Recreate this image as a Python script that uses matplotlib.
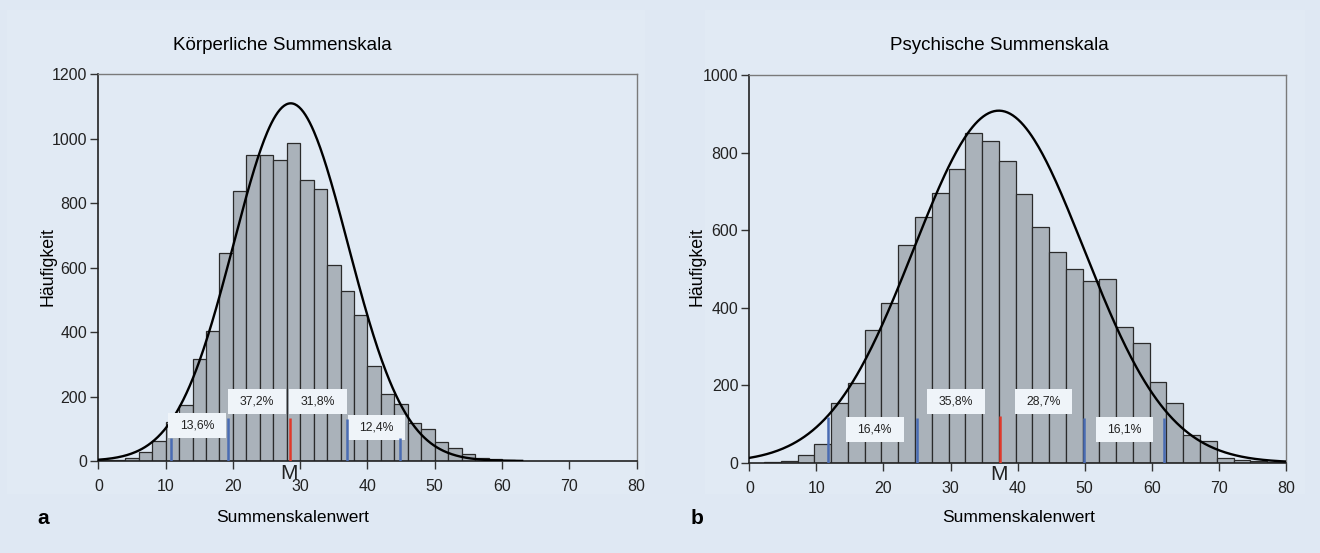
"""
Häufigkeitsverteilungen der Summenskalen (körperlich / psychisch)
mit Normalverteilungskurve und Prozentanteilen je Abschnitt.
"""
import numpy as np
import matplotlib
matplotlib.use("Agg")
import matplotlib.pyplot as plt
from matplotlib.patches import Rectangle

plt.rcParams["font.family"] = ["Liberation Sans", "DejaVu Sans"]

BG = "#dfe8f3"
AREA = "#e1eaf4"
BAR = "#aab2ba"
BLUE = "#4a6cb3"
RED = "#e0392b"
BOX = "#eff4f9"
TXT = "#222222"
TICKFONT = ["Liberation Sans Narrow", "Liberation Sans", "DejaVu Sans"]

# ── Körperliche Summenskala (Klassenbreite 2) ──
koerp_bin_lo = list(range(0, 62, 2))
koerp_counts = [2, 4, 8, 28, 62, 122, 175, 316, 403, 647, 838, 949, 949, 934,
                986, 872, 843, 607, 527, 454, 295, 207, 178, 119, 99, 58, 39,
                21, 8, 5, 3]
koerp_width = 2
koerp_mean, koerp_sd, koerp_peak, koerp_curve_end = 28.6, 8.5, 1110, 63
koerp_mark_x = [10.8, 19.3, 28.5, 37.0, 44.9]
koerp_mark_h = [70, 132, 132, 129, 70]
koerp_pct = ["13,6%", "37,2%", "31,8%", "12,4%"]
koerp_pct_x = [14.7, 23.55, 32.65, 41.35]
koerp_pct_y = [110, 184, 184, 104]

# ── Psychische Summenskala (Klassenbreite 2,5) ──
psych_bin_lo = [2.2 + 2.5 * k for k in range(31)]
psych_counts = [2, 4, 21, 48, 155, 205, 342, 413, 561, 634, 695, 757, 851,
                831, 778, 692, 607, 543, 499, 469, 475, 349, 308, 208, 153,
                72, 55, 13, 7, 4, 2]
psych_width = 2.5
psych_mean, psych_sd, psych_peak, psych_curve_end = 37.2, 12.7, 908, 80
psych_mark_x = [11.8, 25.0, 37.4, 49.9, 61.9]
psych_mark_h = [117, 114, 121, 114, 114]
psych_pct = ["16,4%", "35,8%", "28,7%", "16,1%"]
psych_pct_x = [18.7, 30.85, 43.85, 55.95]
psych_pct_y = [86, 158, 158, 86]

mark_colors = [BLUE, BLUE, RED, BLUE, BLUE]


def panel(ax, lo, counts, width, mean, sd, peak, curve_end,
          mark_x, mark_h, pct, pct_x, pct_y, ymax, box_h):
    ax.set_facecolor(AREA)
    ax.bar(lo, counts, width=width, align="edge", color=BAR,
           edgecolor="#2b2b2b", linewidth=0.9, zorder=2)

    # Normalverteilung mit den Kennwerten der Skala
    xs = np.linspace(0, curve_end, 400)
    ax.plot(xs, peak * np.exp(-0.5 * ((xs - mean) / sd) ** 2),
            color="black", linewidth=1.7, zorder=3)

    for x, h, c in zip(mark_x, mark_h, mark_colors):
        ax.plot([x, x], [0, h], color=c, linewidth=1.8, zorder=5,
                solid_capstyle="butt")

    box_w = 8.6
    for t, x, y in zip(pct, pct_x, pct_y):
        ax.add_patch(Rectangle((x - box_w / 2, y - box_h / 2), box_w, box_h,
                               facecolor=BOX, edgecolor="none", zorder=4))
        ax.text(x, y, t, ha="center", va="center", fontsize=8.8,
                color=TXT, zorder=6)

    # "M" unter dem Mittelwert
    ax.annotate("M", xy=(mark_x[2], 0), xycoords="data",
                xytext=(-1, -2), textcoords="offset points",
                ha="center", va="top", fontsize=15, color=TXT,
                annotation_clip=False)

    ax.set_xlim(0, 80)
    ax.set_ylim(0, ymax)
    ax.set_xticks(range(0, 81, 10))
    ax.set_yticks(range(0, ymax + 1, 200))
    ax.tick_params(axis="x", direction="out", length=6, width=1,
                   color="#333333", pad=7, labelsize=11.5, labelcolor=TXT)
    ax.tick_params(axis="y", direction="out", length=6, width=1,
                   color="#333333", pad=2, labelsize=11.5, labelcolor=TXT)
    for lab in ax.get_xticklabels() + ax.get_yticklabels():
        lab.set_family(TICKFONT)
    for s in ["left", "bottom"]:
        ax.spines[s].set_color("#222222")
        ax.spines[s].set_linewidth(1.2)
    for s in ["top", "right"]:
        ax.spines[s].set_color("#7a7a7a")
        ax.spines[s].set_linewidth(1.0)


fig = plt.figure(figsize=(13.2, 5.53), dpi=100)
fig.patch.set_facecolor(BG)

# kaum sichtbare Diagrammflächen hinter den Plots
fig.patches.append(Rectangle((7 / 1320, 1 - 494 / 553), 638 / 1320, 484 / 553,
                             transform=fig.transFigure, facecolor=AREA,
                             edgecolor="none", zorder=-1))
fig.patches.append(Rectangle((705 / 1320, 1 - 494 / 553), 600 / 1320, 484 / 553,
                             transform=fig.transFigure, facecolor=AREA,
                             edgecolor="none", zorder=-1))

ax1 = fig.add_axes([0.0745, 0.1664, 0.4077, 0.6992])
ax2 = fig.add_axes([0.5677, 0.1633, 0.4064, 0.7011])

panel(ax1, koerp_bin_lo, koerp_counts, koerp_width, koerp_mean, koerp_sd,
      koerp_peak, koerp_curve_end, koerp_mark_x, koerp_mark_h,
      koerp_pct, koerp_pct_x, koerp_pct_y, 1200, 77)
panel(ax2, psych_bin_lo, psych_counts, psych_width, psych_mean, psych_sd,
      psych_peak, psych_curve_end, psych_mark_x, psych_mark_h,
      psych_pct, psych_pct_x, psych_pct_y, 1000, 65)

fig.text(282 / 1320, 1 - 46 / 553, "Körperliche Summenskala",
         ha="center", va="center", fontsize=13.5, color="black")
fig.text(999 / 1320, 1 - 46 / 553, "Psychische Summenskala",
         ha="center", va="center", fontsize=13.5, color="black")

for xpx in [48, 697]:
    fig.text(xpx / 1320, 1 - 267 / 553, "Häufigkeit", rotation=90,
             ha="center", va="center", fontsize=12.8, color="black")
for xpx in [293, 1019]:
    fig.text(xpx / 1320, 1 - 518 / 553, "Summenskalenwert",
             ha="center", va="center", fontsize=12.5, color="black")

fig.text(43 / 1320, 1 - 518 / 553, "a", ha="center", va="center",
         fontsize=15, fontweight="bold", color="black")
fig.text(697 / 1320, 1 - 518 / 553, "b", ha="center", va="center",
         fontsize=15, fontweight="bold", color="black")

fig.savefig("out.png", dpi=100, facecolor=BG)
